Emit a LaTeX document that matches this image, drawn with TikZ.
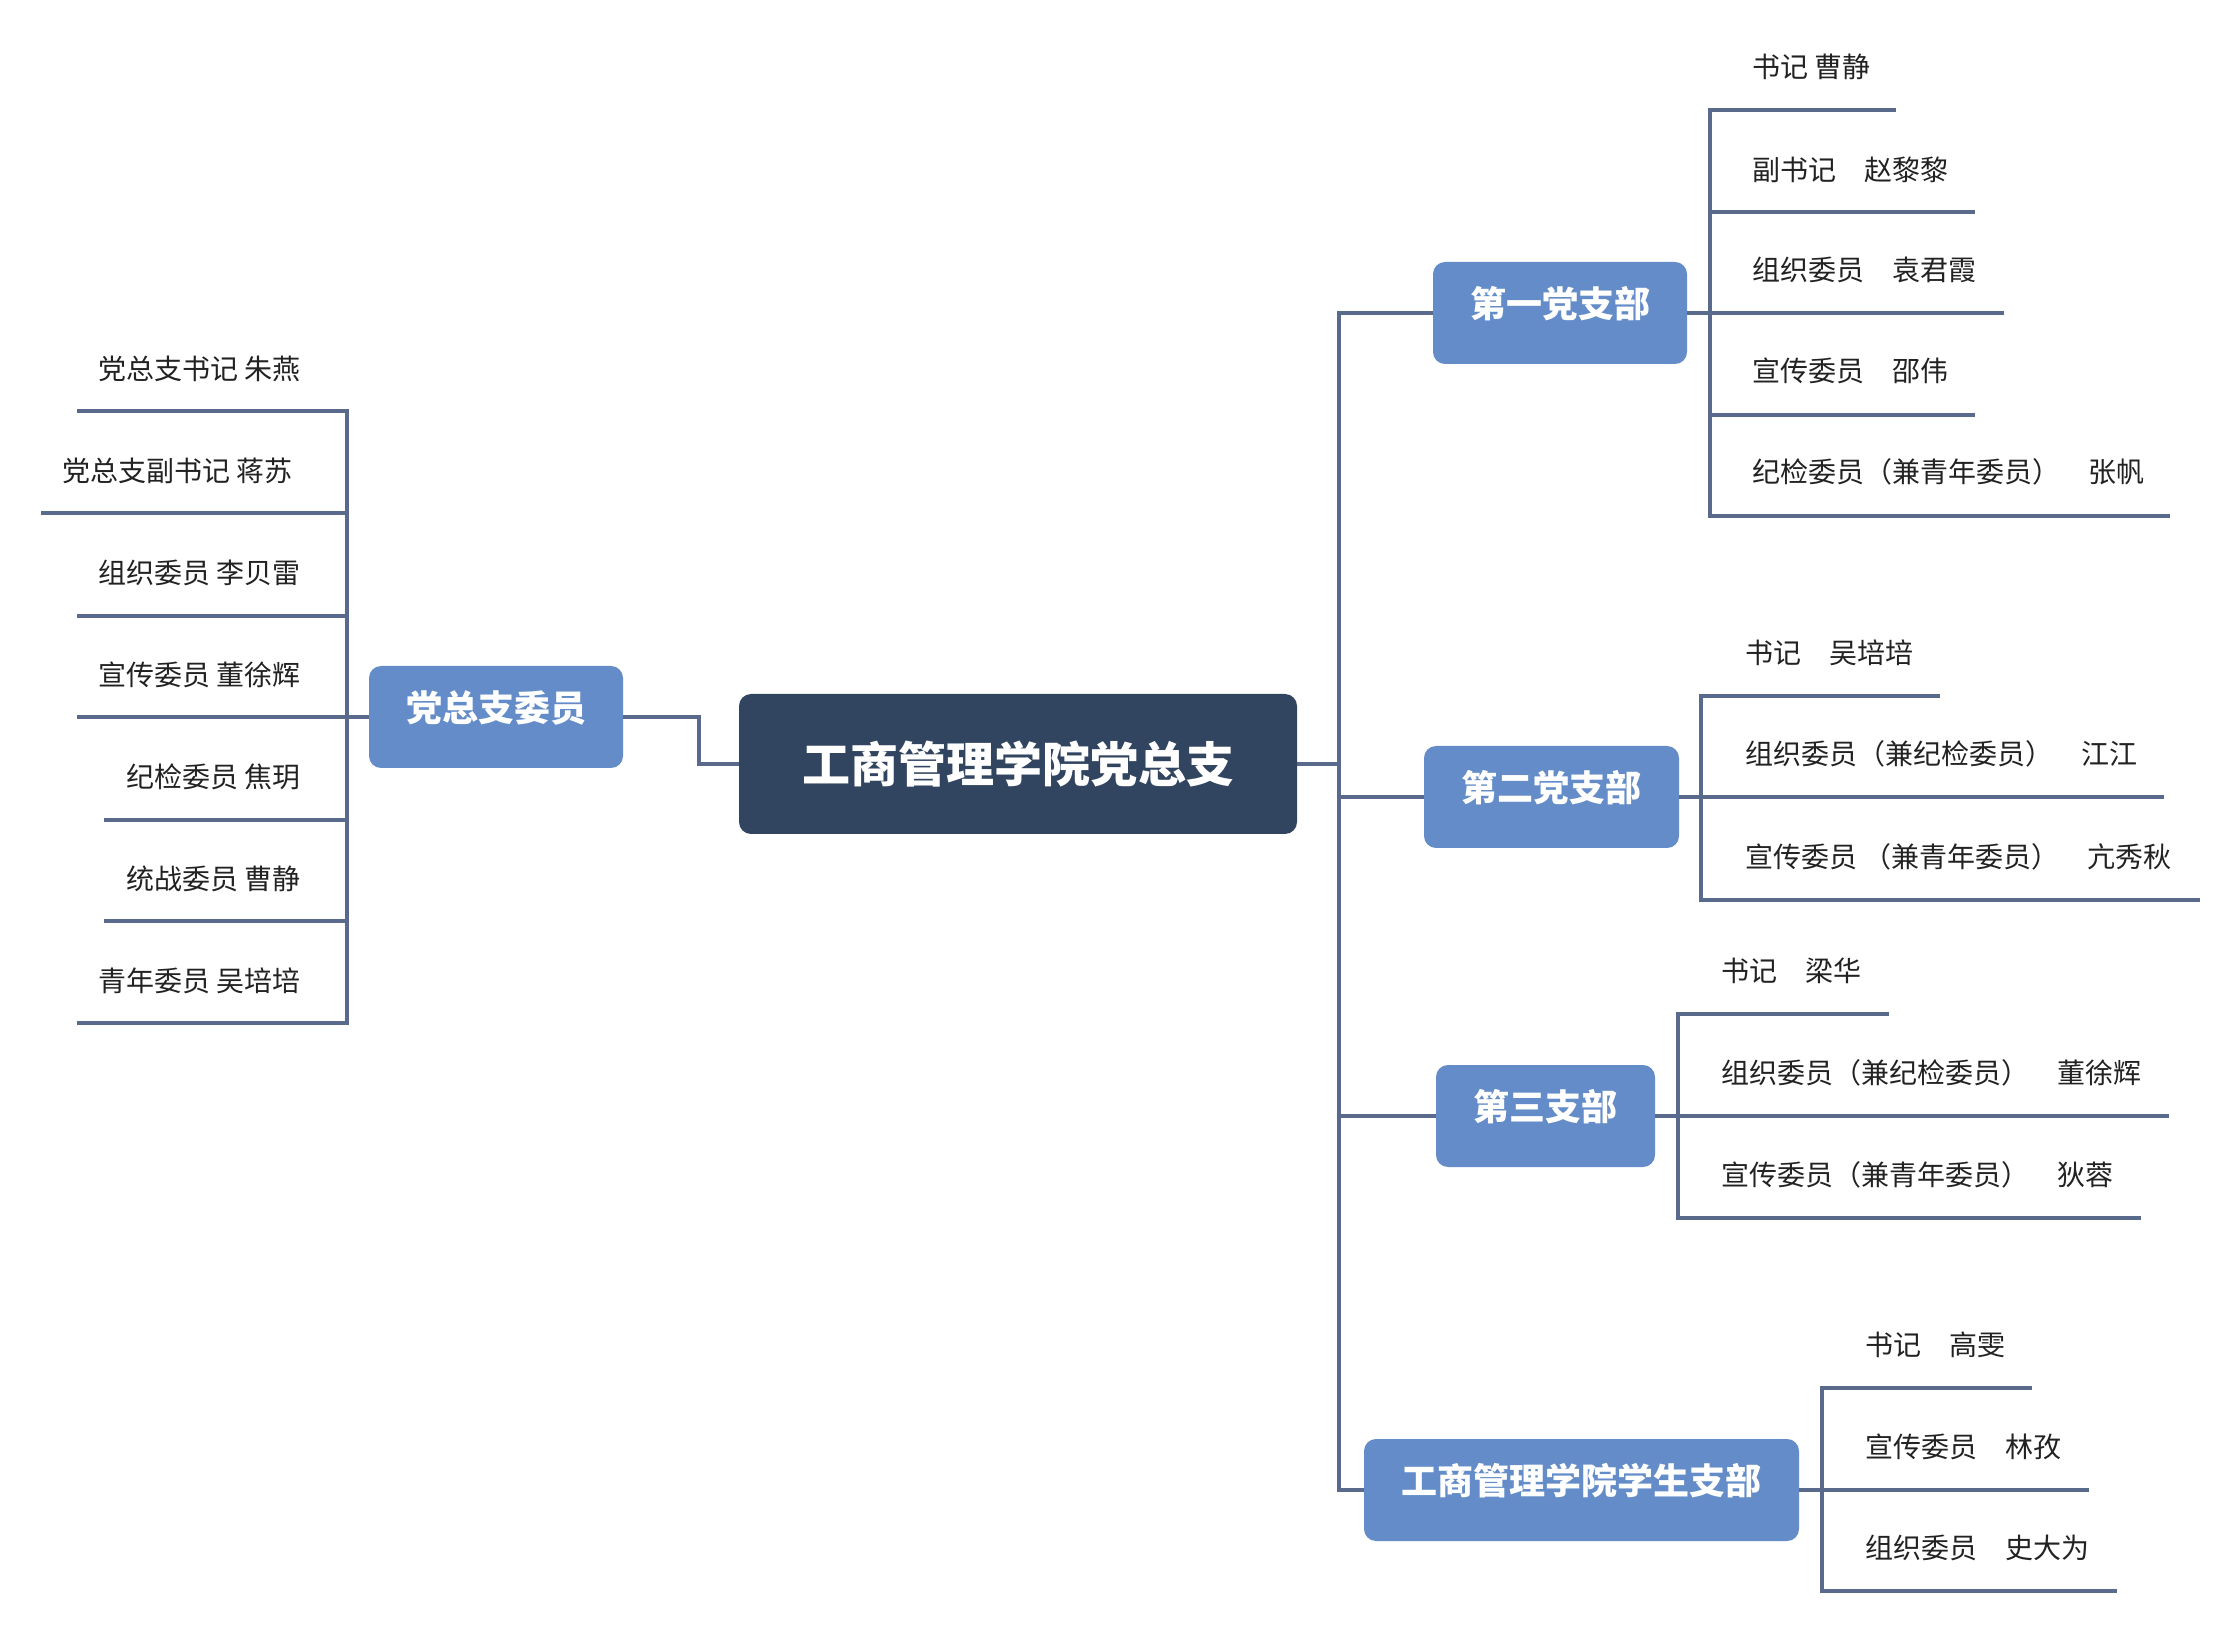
\documentclass[tikz,border=0pt]{standalone}
\usepackage{fontspec}
\setmainfont{Noto Sans CJK SC}
\definecolor{linec}{HTML}{5A6A8C}
\definecolor{boxc}{HTML}{638CC8}
\definecolor{rootc}{HTML}{314460}
\definecolor{txtc}{HTML}{222222}
\tikzset{
 conn/.style={draw=linec, line width=2pt},
 branchbox/.style={rectangle, rounded corners=6pt, fill=boxc, inner sep=0pt, minimum height=51pt},
 branchtext/.style={inner sep=0pt, text=white, font=\bfseries\fontsize{18}{20}\selectfont},
 rootbox/.style={rectangle, rounded corners=6pt, fill=rootc, inner sep=0pt, minimum width=279pt, minimum height=70pt, text=white, font=\bfseries\fontsize{24}{28}\selectfont},
 leaf/.style={anchor=west, inner sep=0pt, text=txtc, font=\fontsize{14}{16}\selectfont},
}
\begin{document}
\begin{tikzpicture}[x=0.5pt,y=-0.5pt]
\useasboundingbox[fill=white] (0,0) rectangle (2240,1636);

% root
\node[rootbox] (root) at (1018,764) {工商管理学院党总支};

% left branch
\node[branchbox, minimum width=127pt] (bl) at (496,717) {};
\node[branchtext] (blt) at ([yshift=4.5pt]bl.center) {党总支委员};

\node[leaf] (l1) at (98,369) {党总支书记 朱燕};
\node[leaf] (l2) at (62,471) {党总支副书记 蒋苏};
\node[leaf] (l3) at (98,573) {组织委员 李贝雷};
\node[leaf] (l4) at (98,675) {宣传委员 董徐辉};
\node[leaf] (l5) at (126,777) {纪检委员 焦玥};
\node[leaf] (l6) at (126,879) {统战委员 曹静};
\node[leaf] (l7) at (98,981) {青年委员 吴培培};

\coordinate (L1) at (347,411); \coordinate (L1e) at (77,411);
\coordinate (L2) at (347,513); \coordinate (L2e) at (41,513);
\coordinate (L3) at (347,616); \coordinate (L3e) at (77,616);
\coordinate (L4) at (347,717); \coordinate (L4e) at (77,717);
\coordinate (L5) at (347,820); \coordinate (L5e) at (104,820);
\coordinate (L6) at (347,921); \coordinate (L6e) at (104,921);
\coordinate (L7) at (347,1023); \coordinate (L7e) at (77,1023);
\draw[conn] (L1e) -- (L1) -- (L7) -- (L7e);
\foreach \i in {2,...,6} { \draw[conn] (L\i) -- (L\i e); }
\draw[conn] (bl.west) -- (L4);
\coordinate (J) at (699,764);
\draw[conn] (root.west) -- (J) |- (bl.east);

% right branch boxes
\node[branchbox, minimum width=127pt] (b1) at (1560,313) {};
\node[branchtext] (b1t) at ([yshift=4.5pt]b1.center) {第一党支部};
\node[branchbox, minimum width=127.5pt] (b2) at (1551.5,797) {};
\node[branchtext] (b2t) at ([yshift=4.5pt]b2.center) {第二党支部};
\node[branchbox, minimum width=109.5pt] (b3) at (1545.5,1116) {};
\node[branchtext] (b3t) at ([yshift=4.5pt]b3.center) {第三支部};
\node[branchbox, minimum width=217.5pt] (b4) at (1581.5,1490) {};
\node[branchtext] (b4t) at ([yshift=4.5pt]b4.center) {工商管理学院学生支部};

% main spine
\coordinate (S0) at (1339,764);
\coordinate (S1) at (1339,313);
\coordinate (S2) at (1339,797);
\coordinate (S3) at (1339,1116);
\coordinate (S4) at (1339,1490);
\draw[conn] (b1.west) -- (S1) -- (S4) -- (b4.west);
\draw[conn] (S2) -- (b2.west);
\draw[conn] (S3) -- (b3.west);
\draw[conn] (root.east) -- (S0);

% branch 1 leaves
\node[leaf] (a1) at (1752,67) {书记 曹静};
\node[leaf] (a2) at (1752,170) {副书记　赵黎黎};
\node[leaf] (a3) at (1752,270) {组织委员　袁君霞};
\node[leaf] (a4) at (1752,371) {宣传委员　邵伟};
\node[leaf] (a5) at (1752,472) {纪检委员（兼青年委员）　张帆};
\coordinate (A1) at (1710,110); \coordinate (A1e) at (1896,110);
\coordinate (A2) at (1710,212); \coordinate (A2e) at (1975,212);
\coordinate (A3) at (1710,313); \coordinate (A3e) at (2004,313);
\coordinate (A4) at (1710,415); \coordinate (A4e) at (1975,415);
\coordinate (A5) at (1710,516); \coordinate (A5e) at (2170,516);
\draw[conn] (A1e) -- (A1) -- (A5) -- (A5e);
\foreach \i in {2,3,4} { \draw[conn] (A\i) -- (A\i e); }
\draw[conn] (b1.east) -- (A3);

% branch 2 leaves
\node[leaf] (c1) at (1745,653) {书记　吴培培};
\node[leaf] (c2) at (1745,754) {组织委员（兼纪检委员）　江江};
\node[leaf] (c3) at (1745,857) {宣传委员 （兼青年委员）　亢秀秋};
\coordinate (C1) at (1701,696); \coordinate (C1e) at (1940,696);
\coordinate (C2) at (1701,797); \coordinate (C2e) at (2164,797);
\coordinate (C3) at (1701,900); \coordinate (C3e) at (2200,900);
\draw[conn] (C1e) -- (C1) -- (C3) -- (C3e);
\draw[conn] (C2) -- (C2e);
\draw[conn] (b2.east) -- (C2);

% branch 3 leaves
\node[leaf] (d1) at (1721,971) {书记　梁华};
\node[leaf] (d2) at (1721,1073) {组织委员（兼纪检委员）　董徐辉};
\node[leaf] (d3) at (1721,1175) {宣传委员（兼青年委员）　狄蓉};
\coordinate (D1) at (1678,1014); \coordinate (D1e) at (1889,1014);
\coordinate (D2) at (1678,1116); \coordinate (D2e) at (2169,1116);
\coordinate (D3) at (1678,1218); \coordinate (D3e) at (2141,1218);
\draw[conn] (D1e) -- (D1) -- (D3) -- (D3e);
\draw[conn] (D2) -- (D2e);
\draw[conn] (b3.east) -- (D2);

% branch 4 leaves
\node[leaf] (e1) at (1865,1345) {书记　高雯};
\node[leaf] (e2) at (1865,1447) {宣传委员　林孜};
\node[leaf] (e3) at (1865,1548) {组织委员　史大为};
\coordinate (E1) at (1822,1388); \coordinate (E1e) at (2032,1388);
\coordinate (E2) at (1822,1490); \coordinate (E2e) at (2089,1490);
\coordinate (E3) at (1822,1591); \coordinate (E3e) at (2117,1591);
\draw[conn] (E1e) -- (E1) -- (E3) -- (E3e);
\draw[conn] (E2) -- (E2e);
\draw[conn] (b4.east) -- (E2);
\end{tikzpicture}
\end{document}
